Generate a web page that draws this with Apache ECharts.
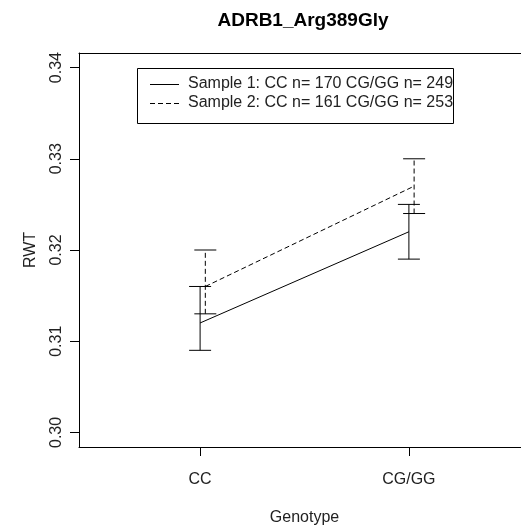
<!DOCTYPE html>
<html>
<head>
<meta charset="utf-8">
<script src="https://cdn.jsdelivr.net/npm/echarts@6/dist/echarts.min.js"></script>
<style>html,body{margin:0;padding:0;background:#fff;overflow:hidden}#c{width:521px;height:525px}</style>
</head>
<body>
<div id="c"></div>
<script>
var titleText = 'ADRB1_Arg389Gly';
var categories = ['CC', 'CG/GG'];
var yTicks = [0.30, 0.31, 0.32, 0.33, 0.34];
var seriesNames = ['Sample 1: CC n= 170 CG/GG n= 249', 'Sample 2: CC n= 161 CG/GG n= 253'];
var s1Mean = [0.312, 0.322];
var s1Low = [0.309, 0.319];
var s1High = [0.316, 0.325];
var s2Mean = [0.316, 0.327];
var s2Low = [0.313, 0.324];
var s2High = [0.320, 0.330];

var FONT = '"Liberation Sans", Arial, sans-serif';
var OFF = [0, 0.025];
var DASH = [5, 3];

function pts(means, off) {
  return means.map(function (m, i) { return [i + 1 + off, m]; });
}
function bars(lo, hi, off) {
  return lo.map(function (l, i) { return [i + 1 + off, l, hi[i]]; });
}
function errItem(dashed) {
  return function (params, api) {
    var x = api.value(0);
    var a = api.coord([x, api.value(1)]);
    var b = api.coord([x, api.value(2)]);
    var w = 11;
    var st = { stroke: '#000', lineWidth: 1 };
    return {
      type: 'group',
      children: [
        { type: 'line', shape: { x1: a[0], y1: a[1], x2: b[0], y2: b[1] },
          style: { stroke: '#000', lineWidth: 1, lineDash: dashed ? DASH : null } },
        { type: 'line', shape: { x1: a[0] - w, y1: a[1], x2: a[0] + w, y2: a[1] }, style: st },
        { type: 'line', shape: { x1: b[0] - w, y1: b[1], x2: b[0] + w, y2: b[1] }, style: st }
      ]
    };
  };
}

var labelStyle = { fontSize: 16, color: '#222', fontFamily: FONT };
var lineBlack = { show: true, lineStyle: { color: '#000', width: 1 } };

var chart = echarts.init(document.getElementById('c'), null, { renderer: 'canvas' });
chart.setOption({
  animation: false,
  backgroundColor: '#fff',
  textStyle: { fontFamily: FONT },
  grid: { left: 79, top: 53, width: 451, height: 394, outerBoundsMode: 'none', containLabel: false, show: false },
  xAxis: [{
    type: 'value', min: 0.42, max: 2.58, position: 'bottom',
    name: 'Genotype', nameLocation: 'middle', nameGap: 63,
    nameTextStyle: labelStyle,
    axisLine: lineBlack,
    splitLine: { show: false },
    axisTick: { show: true, length: 9, lineStyle: { color: '#000' }, customValues: [1, 2] },
    axisLabel: Object.assign({ margin: 25, customValues: [1, 2],
      formatter: function (v) { return categories[Math.round(v) - 1] || ''; } }, labelStyle)
  }, {
    type: 'value', min: 0.42, max: 2.58, position: 'top',
    axisLine: lineBlack, axisTick: { show: false }, axisLabel: { show: false }, splitLine: { show: false }
  }],
  yAxis: [{
    type: 'value', min: 0.2984, max: 0.3416, position: 'left',
    name: 'RWT', nameLocation: 'middle', nameGap: 40,
    nameTextStyle: labelStyle,
    axisLine: lineBlack,
    splitLine: { show: false },
    axisTick: { show: true, length: 9, lineStyle: { color: '#000' }, customValues: yTicks },
    axisLabel: Object.assign({ rotate: 90, margin: 14, customValues: yTicks,
      formatter: function (v) { return v.toFixed(2); } }, labelStyle)
  }],
  series: [
    { type: 'line', name: seriesNames[0], data: pts(s1Mean, OFF[0]), symbol: 'none',
      lineStyle: { color: '#000', width: 1 } },
    { type: 'line', name: seriesNames[1], data: pts(s2Mean, OFF[1]), symbol: 'none',
      lineStyle: { color: '#000', width: 1, type: DASH } },
    { type: 'custom', data: bars(s1Low, s1High, OFF[0]), renderItem: errItem(false), encode: { x: 0, y: [1, 2] } },
    { type: 'custom', data: bars(s2Low, s2High, OFF[1]), renderItem: errItem(true), encode: { x: 0, y: [1, 2] } }
  ],
  graphic: [
    { type: 'text', x: 303, y: 21, style: { text: titleText, fontSize: 19, fontWeight: 'bold', fontFamily: FONT,
      fill: '#000', textAlign: 'center', textVerticalAlign: 'middle' } },
    { type: 'rect', shape: { x: 137.5, y: 68.5, width: 316, height: 55 }, style: { fill: '#fff', stroke: '#000', lineWidth: 1 }, z: 10 },
    { type: 'line', shape: { x1: 150, y1: 84.5, x2: 179, y2: 84.5 }, style: { stroke: '#000', lineWidth: 1 }, z: 11 },
    { type: 'line', shape: { x1: 150, y1: 103.5, x2: 179, y2: 103.5 }, style: { stroke: '#000', lineWidth: 1, lineDash: DASH }, z: 11 },
    { type: 'text', x: 188, y: 84, style: { text: seriesNames[0], fontSize: 16, fontFamily: FONT, fill: '#222', textVerticalAlign: 'middle' }, z: 11 },
    { type: 'text', x: 188, y: 103, style: { text: seriesNames[1], fontSize: 16, fontFamily: FONT, fill: '#222', textVerticalAlign: 'middle' }, z: 11 }
  ]
});
</script>
</body>
</html>
